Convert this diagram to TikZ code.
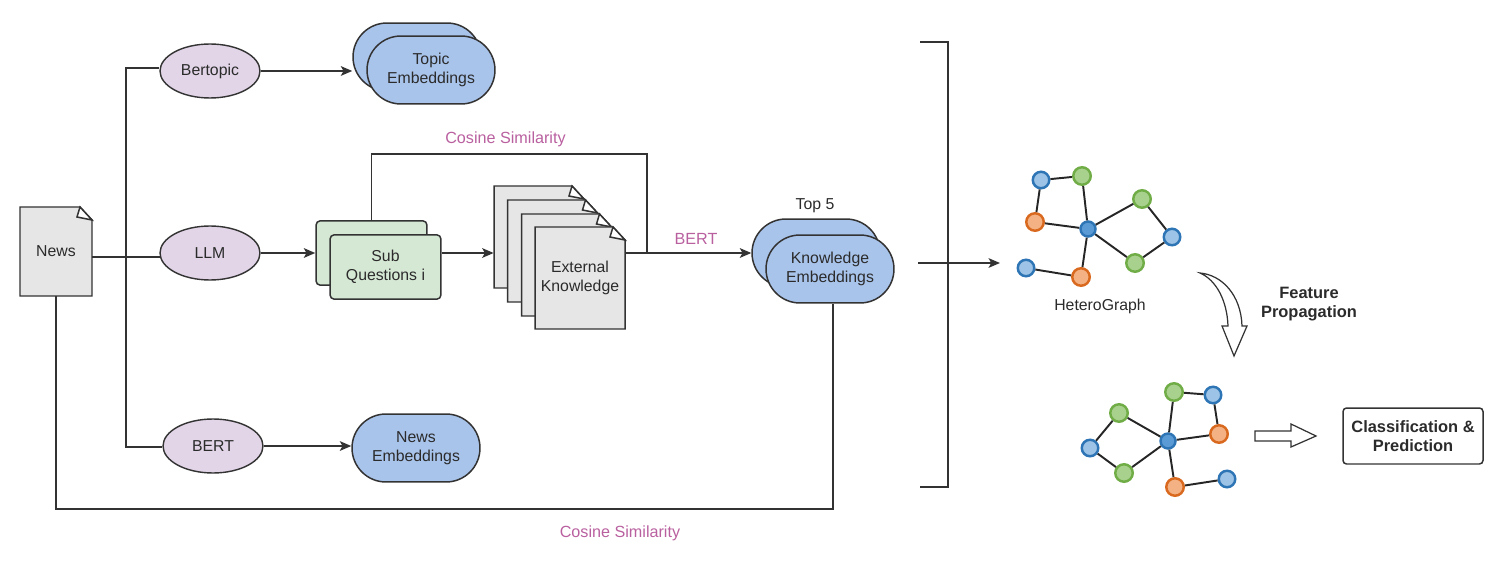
\documentclass[tikz,border=0pt]{standalone}
\usepackage{fontspec}
\setmainfont{Liberation Sans}
\usetikzlibrary{arrows.meta,shapes.geometric,shapes.misc}
\definecolor{linec}{HTML}{333333}
\definecolor{textc}{HTML}{2B2B2B}
\definecolor{pinkc}{HTML}{B9609F}
\definecolor{purplef}{HTML}{E1D5E7}
\definecolor{bluef}{HTML}{A9C4EB}
\definecolor{greenf}{HTML}{D5E8D4}
\definecolor{greyf}{HTML}{E6E6E6}
\definecolor{gblued}{HTML}{2E75B6}
\definecolor{gbluef}{HTML}{9DC3E6}
\definecolor{gcentf}{HTML}{5B9BD5}
\definecolor{ggreend}{HTML}{70AD47}
\definecolor{ggreenf}{HTML}{A9D18E}
\definecolor{gorangd}{HTML}{D9691E}
\definecolor{gorangf}{HTML}{F4B183}
\tikzset{
  conn/.style={draw=linec,line width=0.85pt},
  arr/.style={conn,-{Stealth[length=6.5pt,width=5.5pt,inset=1.5pt]}},
  oval/.style={ellipse,draw=linec,line width=0.8pt,fill=purplef,minimum width=2cm,minimum height=1.08cm,inner sep=0pt,text=textc,font=\small},
  stadium/.style={rounded rectangle,draw=linec,line width=0.85pt,fill=bluef,minimum width=2.56cm,minimum height=1.36cm,inner sep=0pt,align=center,text=textc,font=\small},
  subbox/.style={rectangle,rounded corners=2.5pt,draw=linec,line width=0.85pt,fill=greenf,minimum width=2.22cm,minimum height=1.29cm,inner sep=0pt,align=center,text=textc,font=\small},
  docline/.style={draw=linec,line width=0.85pt,fill=greyf},
  lab/.style={font=\small,text=textc,align=center,inner sep=0pt},
  pinklab/.style={font=\fontsize{9.2}{11}\selectfont,text=pinkc,inner sep=0pt},
  boldlab/.style={font=\fontsize{9.35}{10.6}\selectfont\bfseries,text=textc,align=center,inner sep=0pt},
  blockarr/.style={draw=linec,line width=0.7pt,fill=white},
  gb/.style={circle,draw=gblued,line width=1.4pt,fill=gbluef,minimum size=0.33cm,inner sep=0pt},
  gg/.style={circle,draw=ggreend,line width=1.4pt,fill=ggreenf,minimum size=0.35cm,inner sep=0pt},
  go/.style={circle,draw=gorangd,line width=1.4pt,fill=gorangf,minimum size=0.35cm,inner sep=0pt},
  gc/.style={circle,draw=gblued,line width=1.4pt,fill=gcentf,minimum size=0.3cm,inner sep=0pt},
}
% folded page: name, left, top, right, bottom, text
\newcommand{\docnode}[6]{
  \path[docline] (#2,#3) -- ({#4-12},#3) -- (#4,{#3+13}) -- (#4,#5) -- (#2,#5) -- cycle;
  \path[docline,fill=white] ({#4-12},#3) -- ({#4-15},{#3+10}) -- (#4,{#3+13}) -- cycle;
  \node[minimum width={(#4-#2)*0.02cm},minimum height={(#5-#3)*0.02cm},inner sep=0pt,align=center,text=textc,font=\small]
    (#1) at ({(#2+#4)/2},{(#3+#5)/2}) {#6};
}
\begin{document}
\begin{tikzpicture}[x=0.02cm,y=-0.02cm]
  \useasboundingbox (0,0) rectangle (1504,564);

  \docnode{news}{20}{207}{92}{296}{News}
  \node[oval] (bertopic) at (210,71) {Bertopic};
  \node[oval] (llm) at (210,253) {LLM};
  \node[oval] (bert) at (213,446) {BERT};

  \node[stadium] (topicback) at (417,57) {};
  \node[stadium] (topic) at (431,70) {Topic\\Embeddings};
  \node[stadium] (newsemb) at (416,448) {News\\Embeddings};
  \node[stadium] (knowback) at (816,253) {};
  \node[stadium] (know) at (830,269) {Knowledge\\Embeddings};

  \node[subbox] (subback) at (371.5,253) {};
  \node[subbox] (sub) at (385.5,267) {Sub\\Questions i};

  \docnode{extA}{494}{186}{584}{288}{}
  \docnode{extB}{507.5}{200}{597.5}{302}{}
  \docnode{extC}{521.5}{214}{611.5}{316}{}
  \docnode{ext}{535}{227}{625}{329}{External\\Knowledge}

  \node[lab] (topfive) at (815,206) {Top 5};
  \node[pinklab] (costop) at (505.5,139) {Cosine Similarity};
  \node[pinklab] (bertlab) at (696,239) {BERT};
  \node[pinklab] (cosbot) at (620,533) {Cosine Similarity};

  \coordinate (jnews) at (126,257);
  \coordinate (jtop) at (126,68);
  \coordinate (jbot) at (126,447);
  \coordinate (jk) at (647,253);
  \coordinate (jb) at (833,509);

  \draw[conn] (news.east |- jnews) -- (161,257);
  \draw[conn] (jbot -| bert.west) -- (jbot) -- (jtop) -- (jtop -| bertopic.west);
  \draw[arr] (bertopic.east) -- (bertopic.east -| topicback.west);
  \draw[arr] (bert.east) -- (bert.east -| newsemb.west);
  \draw[arr] (llm.east) -- (subback.west);
  \draw[arr] (sub.east |- jk) -- (extA.west |- jk);
  \draw[conn] (jk -| ext.east) -- (jk);
  \draw[arr] (jk) -- (knowback.west);
  \draw[conn] (subback.north) -- ++(0,-66) -| (jk);
  \draw[conn] (news.south) -- (news.south |- jb) -- (jb) -- (jb |- know.south);

  \coordinate (brA) at (920,42);
  \coordinate (brB) at (948,42);
  \coordinate (brC) at (948,487);
  \coordinate (brD) at (920,487);
  \draw[conn] (brA) -- (brB) -- (brC) -- (brD);
  \coordinate (outA) at (918,263);
  \coordinate (outB) at (1000,263);
  \draw[arr] (outA) -- (outB);

  \begin{scope}
    \node[gb] (a1) at (1041,180) {};
    \node[gg] (a2) at (1082,176) {};
    \node[go] (a3) at (1035,222) {};
    \node[gc] (a4) at (1088,229) {};
    \node[gg] (a5) at (1142,199) {};
    \node[gb] (a6) at (1172,237) {};
    \node[gg] (a7) at (1135,263) {};
    \node[gb] (a8) at (1026,268) {};
    \node[go] (a9) at (1081,277) {};
    \node[gg] (b1) at (1174,392) {};
    \node[gb] (b2) at (1213,395) {};
    \node[go] (b3) at (1219,434) {};
    \node[gc] (b4) at (1168,441) {};
    \node[gg] (b5) at (1119,413) {};
    \node[gb] (b6) at (1090,448) {};
    \node[gg] (b7) at (1124,473) {};
    \node[go] (b8) at (1175,487) {};
    \node[gb] (b9) at (1227,479) {};
  \end{scope}
  \begin{scope}[line width=1.1pt,black!85]
    \draw (a1) -- (a2) -- (a4) -- (a3) -- (a1);
    \draw (a4) -- (a5) -- (a6) -- (a7) -- (a4);
    \draw (a4) -- (a9) -- (a8);
    \draw (b1) -- (b2) -- (b3) -- (b4) -- (b1);
    \draw (b4) -- (b5) -- (b6) -- (b7) -- (b4);
    \draw (b4) -- (b8) -- (b9);
  \end{scope}

  \node[lab] (hetero) at (1100,306) {HeteroGraph};
  \node[boldlab] (feature) at (1309,304) {Feature\\Propagation};

  \path[blockarr] (1200,273) .. controls (1222,275) and (1241,295) .. (1242,326)
    -- (1247,326) -- (1234,356) -- (1222,326) -- (1228,326)
    .. controls (1227,300) and (1216,280) .. (1200,273) -- cycle;
  \path[blockarr] (1255,431) -- (1291,431) -- (1291,424) -- (1316,436) -- (1291,447)
    -- (1291,441) -- (1255,441) -- cycle;

  \node[rectangle,rounded corners=2pt,draw=linec,line width=0.85pt,minimum width=2.8cm,minimum height=1.12cm,
    boldlab] (classif) at (1413,436) {Classification \&\\Prediction};
\end{tikzpicture}
\end{document}
